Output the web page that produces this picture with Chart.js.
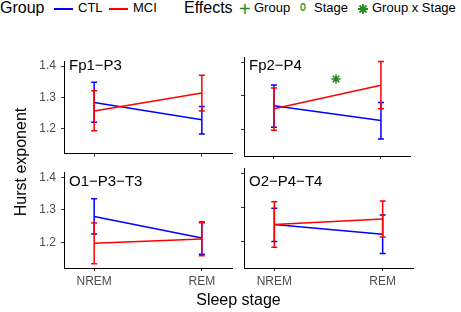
<!DOCTYPE html>
<html lang="en">
<head>
  <meta charset="UTF-8">
  <title>Hurst exponent by sleep stage</title>
  <script src="https://cdn.jsdelivr.net/npm/chart.js"></script>
  <style>
    body {
      margin: 0;
      width: 461px;
      height: 312px;
      position: relative;
      overflow: hidden;
      background: #fff;
      font-family: "Liberation Sans", Arial, sans-serif;
    }
    canvas { position: absolute; }
    .txt { position: absolute; white-space: nowrap; line-height: 1; color: #000; }
    .big { font-size: 16px; }
    .small { font-size: 13px; }
    .key { position: absolute; height: 1.5px; }
    .green { color: #228B22; }
    .facet { position: absolute; font-size: 15px; line-height: 1; white-space: nowrap; }
  </style>
</head>
<body>
  <!-- legend -->
  <div class="txt big" style="left:0;top:0">Group</div>
  <div class="key" style="left:54px;top:8px;width:19px;background:#0000ff"></div>
  <div class="txt small" style="left:78px;top:1.3px">CTL</div>
  <div class="key" style="left:109px;top:8px;width:19px;background:#ff0000"></div>
  <div class="txt small" style="left:133px;top:1.3px">MCI</div>

  <div class="txt big" style="left:184px;top:0">Effects</div>
  <div class="txt green" style="left:239px;top:-1.5px;font-size:20px">+</div>
  <div class="txt small" style="left:254px;top:1.3px">Group</div>
  <div class="txt green" style="left:300px;top:2.6px;font-size:10px;font-weight:bold;transform:scaleX(0.75);transform-origin:left">O</div>
  <div class="txt small" style="left:314px;top:1.3px">Stage</div>
  <canvas id="starKey" width="14" height="14" style="left:356px;top:2px"></canvas>
  <div class="txt small" style="left:372px;top:1.3px">Group x Stage</div>

  <!-- panels -->
  <canvas id="p0"></canvas>
  <canvas id="p1"></canvas>
  <canvas id="p2"></canvas>
  <canvas id="p3"></canvas>

  <div id="f0" class="facet"></div>
  <div id="f1" class="facet"></div>
  <div id="f2" class="facet"></div>
  <div id="f3" class="facet"></div>

  <!-- axis titles -->
  <div class="txt big" style="left:64px;width:349px;text-align:center;top:291.5px">Sleep stage</div>
  <div class="txt big" style="left:-79.5px;top:154px;width:200px;text-align:center;transform:rotate(-90deg)">Hurst exponent</div>

  <script>
    // data
    const stages = ["NREM", "REM"];
    const panels = ["Fp1\u2212P3", "Fp2\u2212P4", "O1\u2212P3\u2212T3", "O2\u2212P4\u2212T4"];
    const yTicks = [1.2, 1.3, 1.4];

    // CTL: mean, lower and upper error bar per panel (NREM, REM)
    const ctlMean = [[1.284, 1.229], [1.270, 1.226], [1.279, 1.213], [1.249, 1.220]];
    const ctlLow  = [[1.221, 1.184], [1.206, 1.171], [1.225, 1.163], [1.199, 1.163]];
    const ctlHigh = [[1.348, 1.271], [1.332, 1.280], [1.334, 1.262], [1.297, 1.277]];

    // MCI
    const mciMean = [[1.257, 1.314], [1.261, 1.331], [1.197, 1.210], [1.249, 1.265]];
    const mciLow  = [[1.194, 1.257], [1.197, 1.261], [1.134, 1.158], [1.182, 1.212]];
    const mciHigh = [[1.321, 1.371], [1.323, 1.402], [1.259, 1.260], [1.316, 1.318]];

    // significant Group x Stage effect markers
    const effectPanel = [1];
    const effectX = [0.58];
    const effectY = [1.350];

    const FONT = '"Liberation Sans", Arial, sans-serif';
    const BLUE = "#0000ff", RED = "#ff0000", GREEN = "#228B22";

    // chart areas on the page
    const boxes = [
      { l: 64, r: 232, t: 57, b: 156 },
      { l: 244, r: 413, t: 57, b: 156 },
      { l: 64, r: 232, t: 168, b: 268 },
      { l: 244, r: 413, t: 168, b: 268 }
    ];
    const facetTop = [56.5, 56.5, 172.5, 172.5];

    // legend key for the interaction effect
    (function () {
      const c = document.getElementById("starKey").getContext("2d");
      c.strokeStyle = GREEN;
      c.lineWidth = 1.8;
      c.beginPath();
      c.moveTo(7, 2); c.lineTo(7, 12);
      c.moveTo(2, 7); c.lineTo(12, 7);
      c.moveTo(3.5, 3.5); c.lineTo(10.5, 10.5);
      c.moveTo(10.5, 3.5); c.lineTo(3.5, 10.5);
      c.stroke();
    })();

    // error bars drawn on top of the lines
    const errorBars = {
      id: "errorBars",
      afterDatasetsDraw(chart) {
        const { ctx, scales: { x, y } } = chart;
        chart.data.datasets.forEach(ds => {
          if (!ds.low) return;
          ctx.save();
          ctx.strokeStyle = ds.borderColor;
          ctx.lineWidth = 1.5;
          ds.data.forEach((p, j) => {
            const px = x.getPixelForValue(p.x);
            const y1 = y.getPixelForValue(ds.low[j]);
            const y2 = y.getPixelForValue(ds.high[j]);
            ctx.beginPath();
            ctx.moveTo(px, y1); ctx.lineTo(px, y2);
            ctx.moveTo(px - 3, y1); ctx.lineTo(px + 3, y1);
            ctx.moveTo(px - 3, y2); ctx.lineTo(px + 3, y2);
            ctx.stroke();
          });
          ctx.restore();
        });
      }
    };

    function points(means) {
      return means.map((v, i) => ({ x: i, y: v }));
    }

    function makePanel(i) {
      const box = boxes[i];
      const leftCol = i % 2 === 0;
      const bottomRow = i >= 2;
      const yW = leftCol ? 64 : 10;
      const xH = bottomRow ? 30 : 10;
      const padT = 8, padR = 4;

      const cv = document.getElementById("p" + i);
      cv.width = yW + (box.r - box.l) + padR;
      cv.height = padT + (box.b - box.t) + xH;
      cv.style.left = (box.l - yW) + "px";
      cv.style.top = (box.t - padT) + "px";

      const datasets = [
        {
          data: points(ctlMean[i]), low: ctlLow[i], high: ctlHigh[i],
          borderColor: BLUE, borderWidth: 1.5, pointRadius: 0, order: 1
        },
        {
          data: points(mciMean[i]), low: mciLow[i], high: mciHigh[i],
          borderColor: RED, borderWidth: 1.5, pointRadius: 0, order: 0
        }
      ];
      const eff = [];
      effectPanel.forEach((p, k) => { if (p === i) eff.push({ x: effectX[k], y: effectY[k] }); });
      if (eff.length) {
        datasets.push({
          data: eff, showLine: false, pointStyle: "star", pointRadius: 4.5,
          borderColor: GREEN, backgroundColor: GREEN, pointBorderWidth: 1.6, order: 2
        });
      }

      new Chart(cv, {
        type: "line",
        data: { datasets },
        options: {
          responsive: false,
          animation: false,
          devicePixelRatio: 1,
          layout: { padding: { top: padT, right: padR, left: 0, bottom: 0 } },
          plugins: { legend: { display: false }, tooltip: { enabled: false } },
          scales: {
            x: {
              type: "linear", min: -0.28, max: 1.28,
              afterBuildTicks: a => { a.ticks = stages.map((s, k) => ({ value: k })); },
              afterFit: s => { s.height = xH; },
              ticks: {
                display: bottomRow, callback: v => stages[v], color: "#4d4d4d",
                font: { family: FONT, size: 12 }, padding: 3, maxRotation: 0, autoSkip: false
              },
              grid: { display: true, drawOnChartArea: false, drawTicks: true, tickLength: 3, color: "#333" },
              border: { display: true, color: "#000", width: 1 }
            },
            y: {
              min: 1.1206, max: 1.4154,
              afterBuildTicks: a => { a.ticks = yTicks.map(v => ({ value: v })); },
              afterFit: s => { s.width = yW; },
              ticks: {
                display: leftCol, callback: v => v.toFixed(1), color: "#4d4d4d",
                font: { family: FONT, size: 12 }, padding: 5
              },
              grid: { display: true, drawOnChartArea: false, drawTicks: true, tickLength: 3, color: "#333" },
              border: { display: true, color: "#000", width: 1 }
            }
          }
        },
        plugins: [errorBars]
      });

      const f = document.getElementById("f" + i);
      f.textContent = panels[i];
      f.style.left = (box.l + 5) + "px";
      f.style.top = facetTop[i] + "px";
    }

    for (let i = 0; i < 4; i++) makePanel(i);
  </script>
</body>
</html>
